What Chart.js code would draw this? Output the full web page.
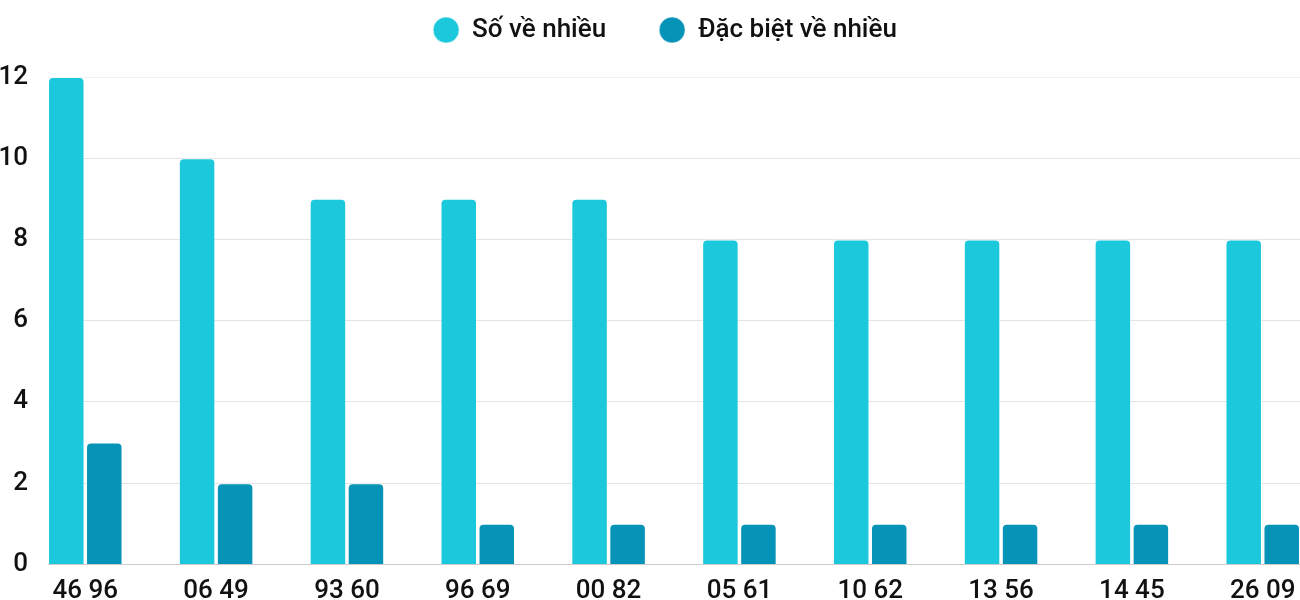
<!DOCTYPE html>
<html>
<head>
<meta charset="utf-8">
<script src="https://cdn.jsdelivr.net/npm/chart.js@4"></script>
<style>
    body { margin: 0; background: #fff; }
    #chart_box { width: 1300px; height: 600px; }
</style>
</head>
<body>
<div id="chart_box"><canvas id="bar_chart"></canvas></div>
<script>
// Data
const categories = ['46 96', '06 49', '93 60', '96 69', '00 82', '05 61', '10 62', '13 56', '14 45', '26 09'];
const soVeNhieu = [12, 10, 9, 9, 9, 8, 8, 8, 8, 8];
const dacBietVeNhieu = [3, 2, 2, 1, 1, 1, 1, 1, 1, 1];
const yTicks = [0, 2, 4, 6, 8, 10, 12];

Chart.defaults.font.family = 'Roboto';
Chart.defaults.font.size = 26;
Chart.defaults.font.weight = 500;
Chart.defaults.color = '#111';

// Push the chart area down below the legend and nudge the legend right
const legendSpacing = {
    id: 'legendSpacing',
    beforeInit(chart) {
        const fit = chart.legend.fit;
        chart.legend.fit = function () {
            fit.call(this);
            this.height += 24;
        };
    },
    afterLayout(chart) {
        chart.legend.left += 30;
    }
};

function toPoints(values) {
    return values.map((v, i) => ({ x: i, y: v }));
}

const bar_chart = document.getElementById('bar_chart');
new Chart(bar_chart, {
    type: 'bar',
    data: {
        datasets: [{
            label: 'Số về nhiều',
            data: toPoints(soVeNhieu),
            backgroundColor: '#1bc8dc'
        }, {
            label: 'Đặc biệt về nhiều',
            data: toPoints(dacBietVeNhieu),
            backgroundColor: '#0593b7'
        }]
    },
    options: {
        responsive: true,
        maintainAspectRatio: false,
        animation: false,
        layout: { padding: { top: -36 } },
        datasets: {
            bar: {
                categoryPercentage: 0.581,
                barPercentage: 0.96,
                borderRadius: 5,
                borderWidth: 1,
                borderColor: 'rgba(255, 255, 255, 0.55)'
            }
        },
        scales: {
            x: {
                type: 'linear',
                offset: false,
                min: -0.285,
                max: 9.285,
                grid: { display: false, drawTicks: false },
                border: { display: false },
                ticks: {
                    stepSize: 1,
                    includeBounds: false,
                    autoSkip: false,
                    maxRotation: 0,
                    padding: 11,
                    callback: (v) => categories[v]
                },
                afterFit: (scale) => {
                    scale.paddingLeft = 0;
                    scale.paddingRight = 0;
                    scale.height = 35;
                }
            },
            y: {
                min: 0,
                max: 12,
                afterBuildTicks: (scale) => {
                    scale.ticks = yTicks.map(v => ({ value: v }));
                },
                afterFit: (scale) => {
                    scale.width = 48;
                },
                border: { display: false },
                grid: {
                    drawTicks: false,
                    color: (ctx) => ctx.index === 0 ? '#cccccc' : (ctx.tick && ctx.tick.value === 12 ? '#f2f2f2' : '#e4e4e4')
                },
                ticks: { padding: 20 }
            }
        },
        plugins: {
            legend: {
                position: 'top',
                labels: {
                    usePointStyle: true,
                    pointStyle: 'circle',
                    pointStyleWidth: 26,
                    boxHeight: 18.4,
                    padding: 53
                }
            },
            tooltip: { enabled: false }
        }
    },
    plugins: [legendSpacing]
});
</script>
</body>
</html>
